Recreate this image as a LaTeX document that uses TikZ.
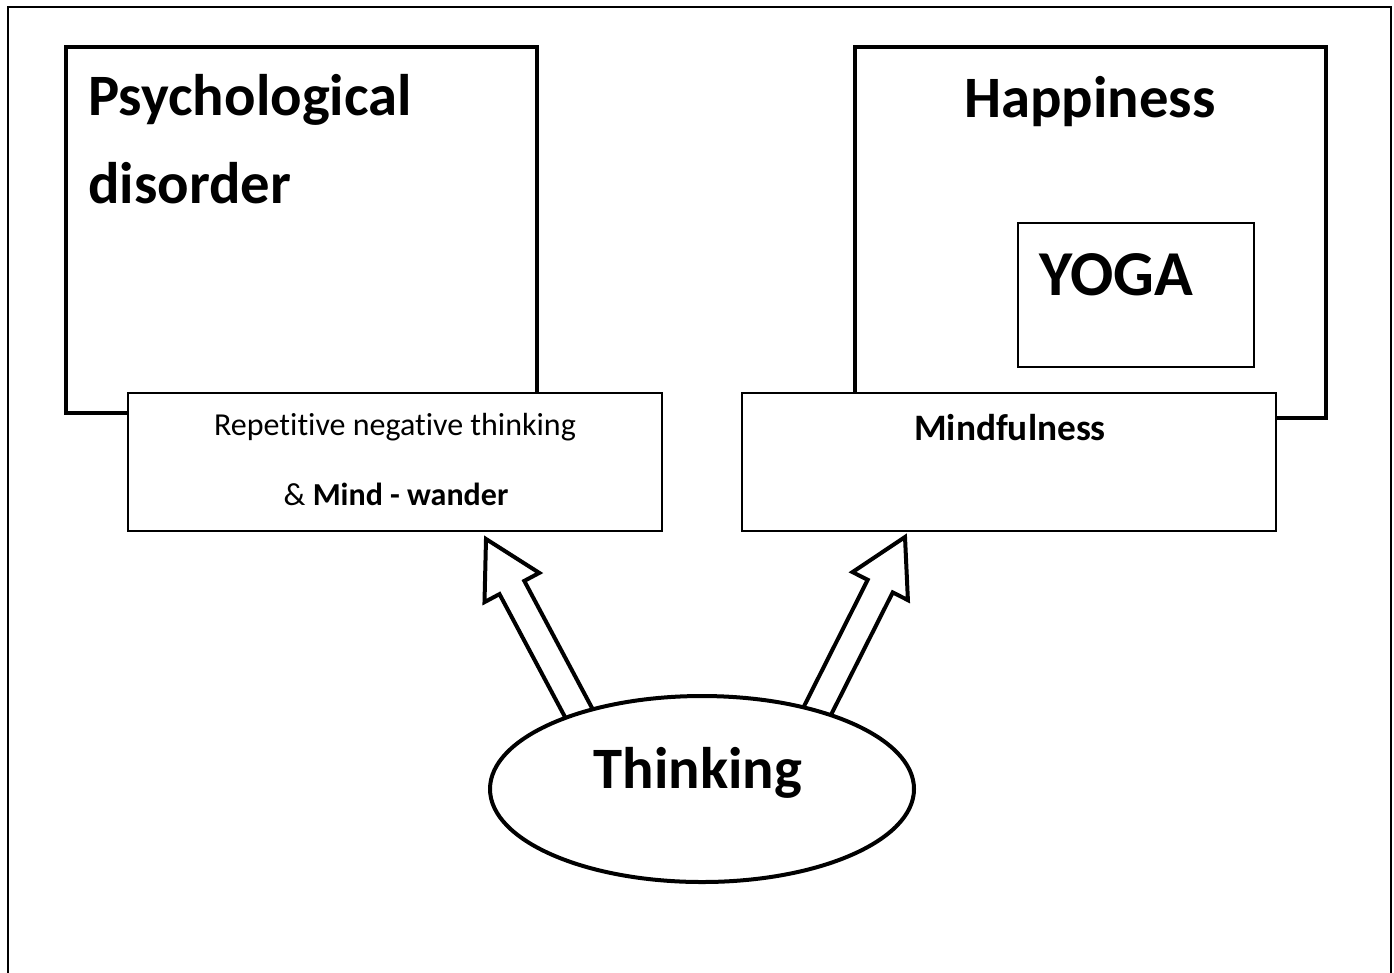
\documentclass[tikz,border=0pt]{standalone}
\usepackage{fontspec}
\setmainfont{Carlito}[Ligatures=NoCommon]
\usetikzlibrary{fit,shapes.geometric}
\begin{document}
\begin{tikzpicture}[x=0.75pt,y=-0.75pt,
  frame/.style={line width=1.5pt},
  thickbox/.style={draw,line width=3.5pt,inner sep=0pt},
  thinbox/.style={draw,line width=1pt,fill=white,inner sep=0pt},
  blockarrow/.style={draw,line width=3pt,fill=white,line join=miter},
  bigtext/.style={inner sep=0pt,font=\fontsize{44}{52}\selectfont\bfseries},
  smalltext/.style={inner sep=0pt,font=\fontsize{24}{28}\selectfont}]
\useasboundingbox (0,0) rectangle (1394,972);
% outer frame (open at the bottom)
\draw[frame] (8,990) -- (8,7) -- (1391,7) -- (1391,990);
% thick boxes
\node[thickbox,fit={(66,47)(537,413)}] (psy) {};
\node[thickbox,fit={(855,47)(1326,418)}] (hap) {};
\node[thinbox,fit={(1018,223)(1254,367)}] (yoga) {};
% thin boxes
\node[thinbox,fit={(128,393)(662,531)}] (rnt) {};
\node[thinbox,fit={(742,393)(1276,531)}] (mind) {};
% texts
\node[bigtext,anchor=base west] (t1) at (88,115) {Psychological};
\node[bigtext,anchor=base west] (t2) at (88,203) {disorder};
\node[bigtext,anchor=base] (t3) at (1090,117) {Happiness};
\node[bigtext,anchor=base west,font=\fontsize{48}{52}\selectfont\bfseries] (t4) at (1039,295) {YOGA};
\node[smalltext,anchor=base] (t5) at (395,435) {Repetitive negative thinking};
\node[smalltext,anchor=base] (t6) at (396,505) {\& \textbf{Mind - wander}};
\node[smalltext,anchor=base,font=\fontsize{28}{32}\selectfont\bfseries] (t7) at (1010,440) {Mindfulness};
% block arrows
\draw[blockarrow] (575.5,736.7) -- (499.5,594.1) -- (484.5,602.1) -- (486,539)
  -- (539.3,572.9) -- (524.3,580.9) -- (600.3,723.5) -- cycle;
\draw[blockarrow] (797.0,720.1) -- (867.7,579.8) -- (852.5,572.1) -- (905,537)
  -- (907.9,600.1) -- (892.7,592.4) -- (822.0,732.7) -- cycle;
% ellipse
\node[ellipse,draw,line width=3pt,fill=white,inner sep=0pt,
  minimum width=318pt,minimum height=139.5pt] (think) at (702,789) {};
\node[bigtext,anchor=base] (t8) at (698,788) {Thinking};
\end{tikzpicture}
\end{document}
